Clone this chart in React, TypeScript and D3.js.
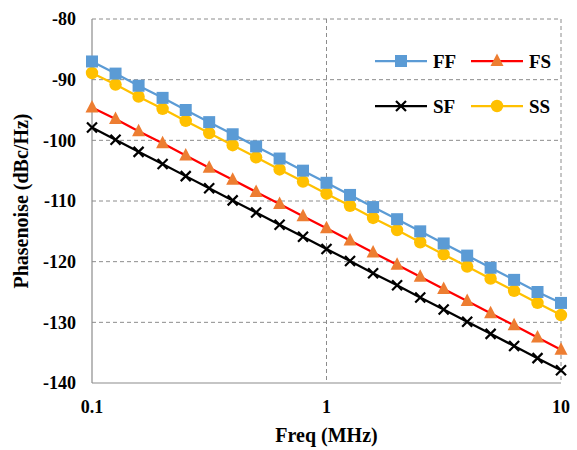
import React from 'react';
import * as d3 from 'd3';

const freqs = [0.1, 0.126, 0.158, 0.2, 0.251, 0.316, 0.398, 0.501, 0.631, 0.794, 1, 1.26, 1.58, 2, 2.51, 3.16, 3.98, 5.01, 6.31, 7.94, 10];
const ff = [-87, -89, -91, -93, -95, -97, -99, -101, -103, -105, -107, -109, -111, -113, -115, -117, -119, -121, -123, -125, -126.8];
const ss = [-88.9, -90.8, -92.8, -94.8, -96.8, -98.8, -100.8, -102.8, -104.8, -106.8, -108.8, -110.8, -112.8, -114.8, -116.8, -118.8, -120.8, -122.8, -124.8, -126.8, -128.8];
const fs = [-94.6, -96.5, -98.5, -100.5, -102.5, -104.5, -106.5, -108.5, -110.5, -112.5, -114.5, -116.5, -118.5, -120.5, -122.5, -124.5, -126.5, -128.5, -130.5, -132.5, -134.5];
const sf = [-97.9, -99.9, -101.9, -103.9, -105.9, -107.9, -109.9, -111.9, -113.9, -115.9, -117.9, -119.9, -121.9, -123.9, -125.9, -127.9, -129.9, -131.9, -133.9, -135.9, -137.9];
const yTicks = [-80, -90, -100, -110, -120, -130, -140];
const xTicks = [0.1, 1, 10];

const series = [
  { name: 'FF', values: ff, line: '#5B9BD5', marker: '#5B9BD5', shape: 'square' },
  { name: 'FS', values: fs, line: '#FF0000', marker: '#ED7D31', shape: 'triangle' },
  { name: 'SF', values: sf, line: '#000000', marker: '#000000', shape: 'x' },
  { name: 'SS', values: ss, line: '#FFC000', marker: '#FFC000', shape: 'circle' },
];
const drawOrder = ['SF', 'FS', 'SS', 'FF'];

const W = 577, H = 450;
const m = { left: 92, right: 16, top: 19, bottom: 67 };
const font = '"Liberation Serif", "Times New Roman", serif';

function Marker({ shape, color, x, y }: { shape: string; color: string; x: number; y: number }) {
  if (shape === 'square') return <rect x={x - 6} y={y - 6} width={12} height={12} fill={color} />;
  if (shape === 'circle') return <circle cx={x} cy={y} r={6.2} fill={color} />;
  if (shape === 'triangle') return <path d={`M${x},${y - 7.5}L${x + 6.5},${y + 5}L${x - 6.5},${y + 5}Z`} fill={color} />;
  return <path d={`M${x - 5},${y - 5}L${x + 5},${y + 5}M${x + 5},${y - 5}L${x - 5},${y + 5}`} stroke={color} strokeWidth={2.2} />;
}

export default function App() {
  const x = d3.scaleLog().domain([0.1, 10]).range([m.left, W - m.right]);
  const y = d3.scaleLinear().domain([-140, -80]).range([H - m.bottom, m.top]);
  const line = d3.line<number>().x((_, i) => x(freqs[i])).y(d => y(d));

  // legend: line start x, row y
  const legendPos: Record<string, [number, number]> = {
    FF: [375, 61], FS: [471, 61], SF: [375, 106], SS: [471, 106],
  };

  return (
    <svg width={W} height={H} style={{ position: 'absolute', left: 0, top: 0 }} fontFamily={font}>
      <rect width={W} height={H} fill="#fff" />

      {yTicks.filter(t => t !== -140).map(t => (
        <line key={t} x1={m.left} x2={W - m.right} y1={y(t)} y2={y(t)} stroke="#8c8c8c" strokeDasharray="4,3" />
      ))}
      {xTicks.filter(t => t !== 0.1).map(t => (
        <line key={t} x1={x(t)} x2={x(t)} y1={m.top} y2={H - m.bottom} stroke="#8c8c8c" strokeDasharray="4,3" />
      ))}
      <line x1={m.left} x2={m.left} y1={m.top} y2={H - m.bottom} stroke="#8c8c8c" strokeWidth={1.2} />
      <line x1={m.left} x2={W - m.right} y1={H - m.bottom} y2={H - m.bottom} stroke="#8c8c8c" strokeWidth={1.2} />

      {yTicks.map(t => (
        <text key={t} x={m.left - 16} y={y(t)} dy="0.35em" textAnchor="end" fontSize={18} fontWeight="bold">{t}</text>
      ))}
      {xTicks.map(t => (
        <text key={t} x={x(t)} y={H - m.bottom + 30} textAnchor="middle" fontSize={18} fontWeight="bold">{t}</text>
      ))}
      <text x={(m.left + W - m.right) / 2} y={442} textAnchor="middle" fontSize={20} fontWeight="bold">Freq (MHz)</text>
      <text transform={`translate(28,${(m.top + H - m.bottom) / 2}) rotate(-90)`} textAnchor="middle" fontSize={20} fontWeight="bold">Phasenoise (dBc/Hz)</text>

      {drawOrder.map(n => {
        const s = series.find(d => d.name === n)!;
        return (
          <g key={n}>
            <path d={line(s.values) || ''} fill="none" stroke={s.line} strokeWidth={2.25} />
            {s.values.map((v, i) => <Marker key={i} shape={s.shape} color={s.marker} x={x(freqs[i])} y={y(v)} />)}
          </g>
        );
      })}

      {series.map(s => {
        const [lx, ly] = legendPos[s.name];
        return (
          <g key={s.name}>
            <line x1={lx} x2={lx + 52} y1={ly} y2={ly} stroke={s.line} strokeWidth={2.25} />
            <Marker shape={s.shape} color={s.marker} x={lx + 26} y={ly} />
            <text x={lx + 58} y={ly} dy="0.35em" fontSize={19} fontWeight="bold">{s.name}</text>
          </g>
        );
      })}
    </svg>
  );
}
